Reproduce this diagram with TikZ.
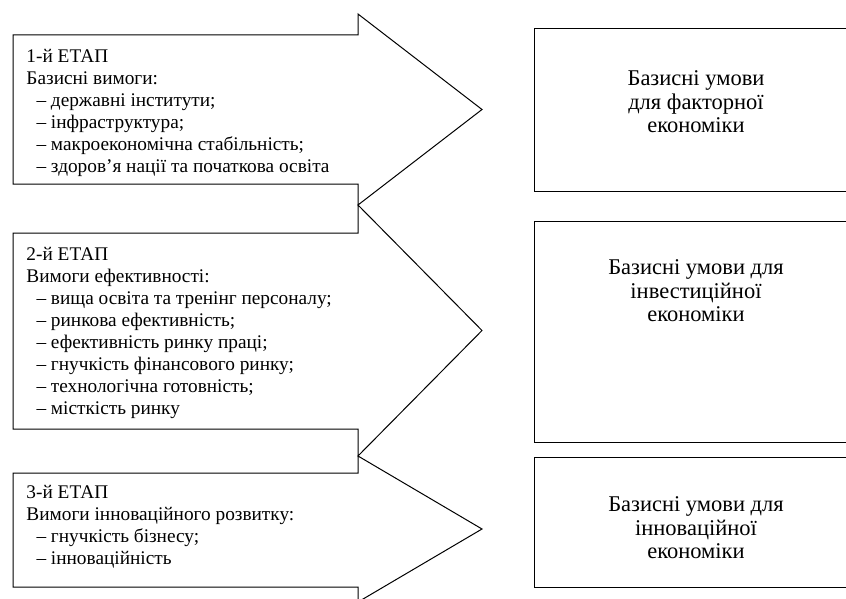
\documentclass[tikz,border=0pt]{standalone}
\usepackage{fontspec}
\setmainfont{Liberation Serif}
\usetikzlibrary{positioning}

\begin{document}
\begin{tikzpicture}[
      x=1pt, y=-1pt, line width=1pt,
      StageText/.style={
        anchor=north west, inner sep=0pt, align=left,
        font=\fontsize{19.3}{22}\selectfont,
      },
      CondText/.style={
        anchor=north, inner sep=0pt, align=center,
        font=\fontsize{22.5}{23.5}\selectfont,
      },
      ]
      \clip (0,0) rectangle (846,599);

      % stage arrows: body top/bottom, head top/bottom
      \foreach \bt/\bb/\ht/\hb in {35/184/14/205, 233/429/205/456, 473/587/456/602} {
        \draw (13,\bt) -- (358,\bt) -- (358,\ht) -- (482,{(\ht+\hb)/2})
          -- (358,\hb) -- (358,\bb) -- (13,\bb) -- cycle;
      }

      % condition boxes
      \draw (534,29) rectangle (856,191);
      \draw (534,221) rectangle (856,442);
      \draw (534,457) rectangle (856,587);

      \node[StageText] (S1) at (26, 49) {1-й ЕТАП\\Базисні вимоги:\\
        \hspace*{10pt}– державні інститути;\\
        \hspace*{10pt}– інфраструктура;\\
        \hspace*{10pt}– макроекономічна стабільність;\\
        \hspace*{10pt}– здоров’я нації та початкова освіта};
      \node[StageText] (S2) at (26, 246.5) {2-й ЕТАП\\Вимоги ефективності:\\
        \hspace*{10pt}– вища освіта та тренінг персоналу;\\
        \hspace*{10pt}– ринкова ефективність;\\
        \hspace*{10pt}– ефективність ринку праці;\\
        \hspace*{10pt}– гнучкість фінансового ринку;\\
        \hspace*{10pt}– технологічна готовність;\\
        \hspace*{10pt}– місткість ринку};
      \node[StageText] (S3) at (26, 485) {3-й ЕТАП\\Вимоги інноваційного розвитку:\\
        \hspace*{10pt}– гнучкість бізнесу;\\
        \hspace*{10pt}– інноваційність};

      \node[CondText] (U1) at (696, 70.5) {Базисні умови\\для факторної\\економіки};
      \node[CondText] (U2) at (696, 259.5) {Базисні умови для\\інвестиційної\\економіки};
      \node[CondText] (U3) at (696, 496.5) {Базисні умови для\\інноваційної\\економіки};
    \end{tikzpicture}
\end{document}
